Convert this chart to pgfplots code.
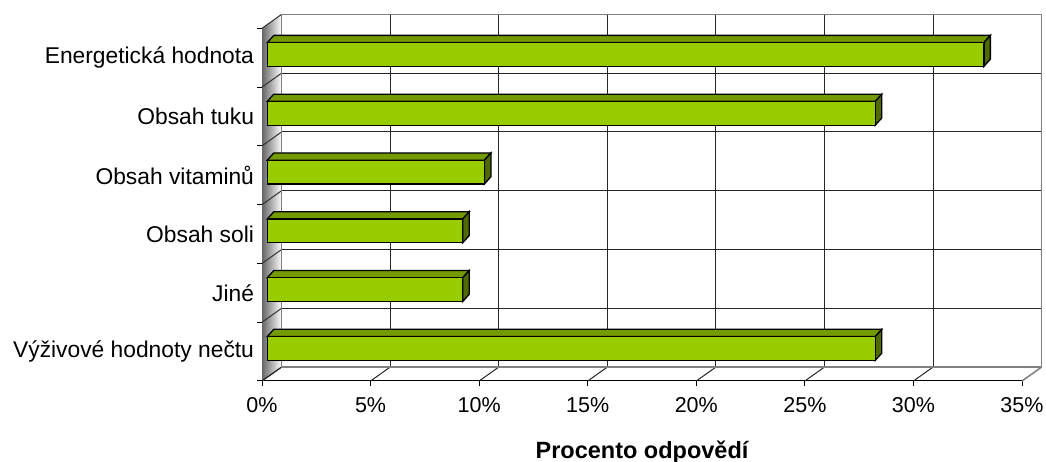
\documentclass[border=0pt]{standalone}
\usepackage{pgfplots}
\pgfplotsset{compat=1.18}
\usepackage{pgfplotstable}
\usepackage{fontspec}
\setmainfont{Liberation Sans}
\definecolor{barfront}{HTML}{99CC00}
\definecolor{bartop}{HTML}{739A00}
\definecolor{barside}{HTML}{4F6A00}
\pgfdeclareplotmark{nothing}{}

\pgfplotstableread{
y v
0.5 28
1.5 9
2.5 9
3.5 10
4.5 28
5.5 33
}\data

\begin{document}
\begin{tikzpicture}
\useasboundingbox (0,0) rectangle (1046pt,462pt);
\begin{axis}[
 at={(262pt,81pt)}, anchor=south west,
 width=760pt, height=352.7pt, scale only axis,
 xmin=0, xmax=35, ymin=0, ymax=6,
 clip=false,
 axis x line*=bottom, axis y line*=left,
 axis line style={black, line width=1pt},
 xtick={0,5,...,35},
 xticklabels={0\%,5\%,10\%,15\%,20\%,25\%,30\%,35\%},
 ytick={0,1,...,6}, yticklabels={},
 extra y ticks={0.5,1.5,...,5.5},
 extra y tick labels={Výživové hodnoty nečtu, Jiné, Obsah soli, Obsah vitaminů, Obsah tuku, Energetická hodnota},
 extra y tick style={ymajorgrids=false, major tick length=0pt},
 tick align=outside, major tick length=5pt,
 tick style={black, line width=1pt},
 xmajorgrids, ymajorgrids,
 major grid style={black!85, line width=1pt, xshift=19.7pt, yshift=14pt},
 xticklabel style={font=\fontsize{21.5}{25}\selectfont, anchor=base, yshift=-27pt},
 yticklabel style={font=\fontsize{22.8}{27}\selectfont, anchor=east, xshift=-4.5pt},
 xlabel={Procento odpovědí},
 xlabel style={font=\fontsize{23.5}{28}\selectfont\bfseries, at={(axis description cs:0.5,0)}, anchor=base, yshift=-78pt},
]
% left wall
\addplot[draw=none, left color=black!60, right color=white] coordinates {(0,0) (0,6) (0.907,6.238) (0.907,0.238)} -- cycle;
\pgfplotsinvokeforeach{0,1,...,6}{\addplot[black!80, line width=1pt] coordinates {(0,#1) (0.907,#1.238)};}
% floor
\pgfplotsinvokeforeach{0,5,...,30}{\addplot[black!85, line width=1pt] coordinates {(#1,0) (#1.907,0.238)};}
\addplot[gray, line width=1.5pt] coordinates {(35,0) (35.907,0.238)};
% back wall outline
\addplot[gray, line width=1.5pt] coordinates {(0.907,0.238) (35.907,0.238) (35.907,6.238) (0.907,6.238)} -- cycle;
% bars
\addplot[only marks, mark=nothing, scatter,
 visualization depends on={rawx \as \val},
 scatter/@pre marker code/.code={%
   \pgfmathsetmacro\L{\val*21.7143}%
   \begin{scope}[x=1pt,y=1pt, line width=1.3pt, line join=miter]
   \filldraw[fill=bartop, draw=black] ({5.3-\L},15.1) -- (5.3,15.1) -- (11.8,22.3) -- ({11.8-\L},22.3) -- cycle;
   \filldraw[fill=barside, draw=black] (5.3,-8.7) -- (5.3,15.1) -- (11.8,22.3) -- (11.8,-1.5) -- cycle;
   \filldraw[fill=barfront, draw=black] ({5.3-\L},-8.7) rectangle (5.3,15.1);
   \end{scope}
 },
 scatter/@post marker code/.code={},
] table[x=v,y=y]{\data};
\end{axis}
\end{tikzpicture}
\end{document}
